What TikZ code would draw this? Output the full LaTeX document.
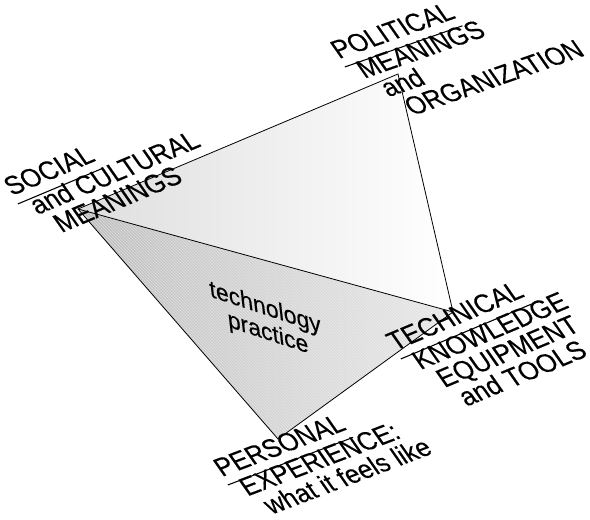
\documentclass[tikz,border=0pt]{standalone}
\usepackage{fontspec}
\setmainfont{Liberation Sans}
\newfontfamily\lblfont[FakeBold=0.3]{Liberation Sans}
\usetikzlibrary{patterns}
\newcommand\ulbl[1]{\vtop{\hbox{#1\rule[-7pt]{0pt}{7pt}}\kern0.6pt\hrule height 0.9pt}}
\begin{document}
\begin{tikzpicture}[x=1pt,y=1pt,
  edge/.style={line width=0.8pt, line join=miter},
  lblframe/.style={cm={1,#1,-0.7,1.0,(0,0)}},
  lbl/.style={transform shape, anchor=base west, inner sep=0pt, font=\lblfont\fontsize{23}{27}\selectfont},
  midframe/.style={cm={1,-0.33,-0.12,1.05,(0,0)}},
  mid/.style={transform shape, anchor=base, inner sep=0pt, font=\lblfont\fontsize{23}{25}\selectfont}]
\useasboundingbox (0,0) rectangle (590,520);
\coordinate (S) at (78,311);
\coordinate (P) at (398,446);
\coordinate (T) at (453,208);
\coordinate (R) at (278,81);
\shade[left color=black!13, right color=white] (S) -- (P) -- (T) -- cycle;
\shade[left color=black!25, right color=black!9] (S) -- (T) -- (R) -- cycle;
\fill[pattern=north west lines, pattern color=white, opacity=0.4] (S) -- (T) -- (R) -- cycle;
\draw[edge] (S) -- (P) -- (T) -- (R) -- cycle;
\draw[edge] (S) -- (T);
% SOCIAL
\begin{scope}[shift={(12,324)}, lblframe=0.42]
  \node[lbl] (s1) at (0,0) {\ulbl{SOCIAL}};
  \node[lbl] (s2) at (9.4,-23) {and CULTURAL};
  \node[lbl] (s3) at (18.2,-44.7) {MEANINGS};
\end{scope}
% POLITICAL
\begin{scope}[shift={(339,461)}, lblframe=0.35]
  \node[lbl] (p1) at (0,0) {\ulbl{POLITICAL}};
  \node[lbl] (p2) at (9.4,-23) {MEANINGS};
  \node[lbl] (p3) at (18.2,-44.7) {and};
  \node[lbl] (p4) at (27,-66.4) {ORGANIZATION};
\end{scope}
% TECHNICAL
\begin{scope}[shift={(395,169)}, lblframe=0.42]
  \node[lbl] (t1) at (0,0) {\ulbl{TECHNICAL}};
  \node[lbl] (t2) at (9.4,-23) {KNOWLEDGE};
  \node[lbl] (t3) at (18.2,-44.7) {EQUIPMENT};
  \node[lbl] (t4) at (25,-66.4) {and TOOLS};
\end{scope}
% PERSONAL
\begin{scope}[shift={(222,43)}, lblframe=0.38]
  \node[lbl] (e1) at (0,0) {\ulbl{PERSONAL}};
  \node[lbl] (e2) at (9.4,-23) {EXPERIENCE:};
  \node[lbl] (e3) at (18.2,-44.7) {what it feels like};
\end{scope}
% centre
\begin{scope}[shift={(266,205)}, midframe]
  \node[mid] (c1) at (0,0) {technology};
  \node[mid] (c2) at (0,-24) {practice};
\end{scope}
\end{tikzpicture}
\end{document}
